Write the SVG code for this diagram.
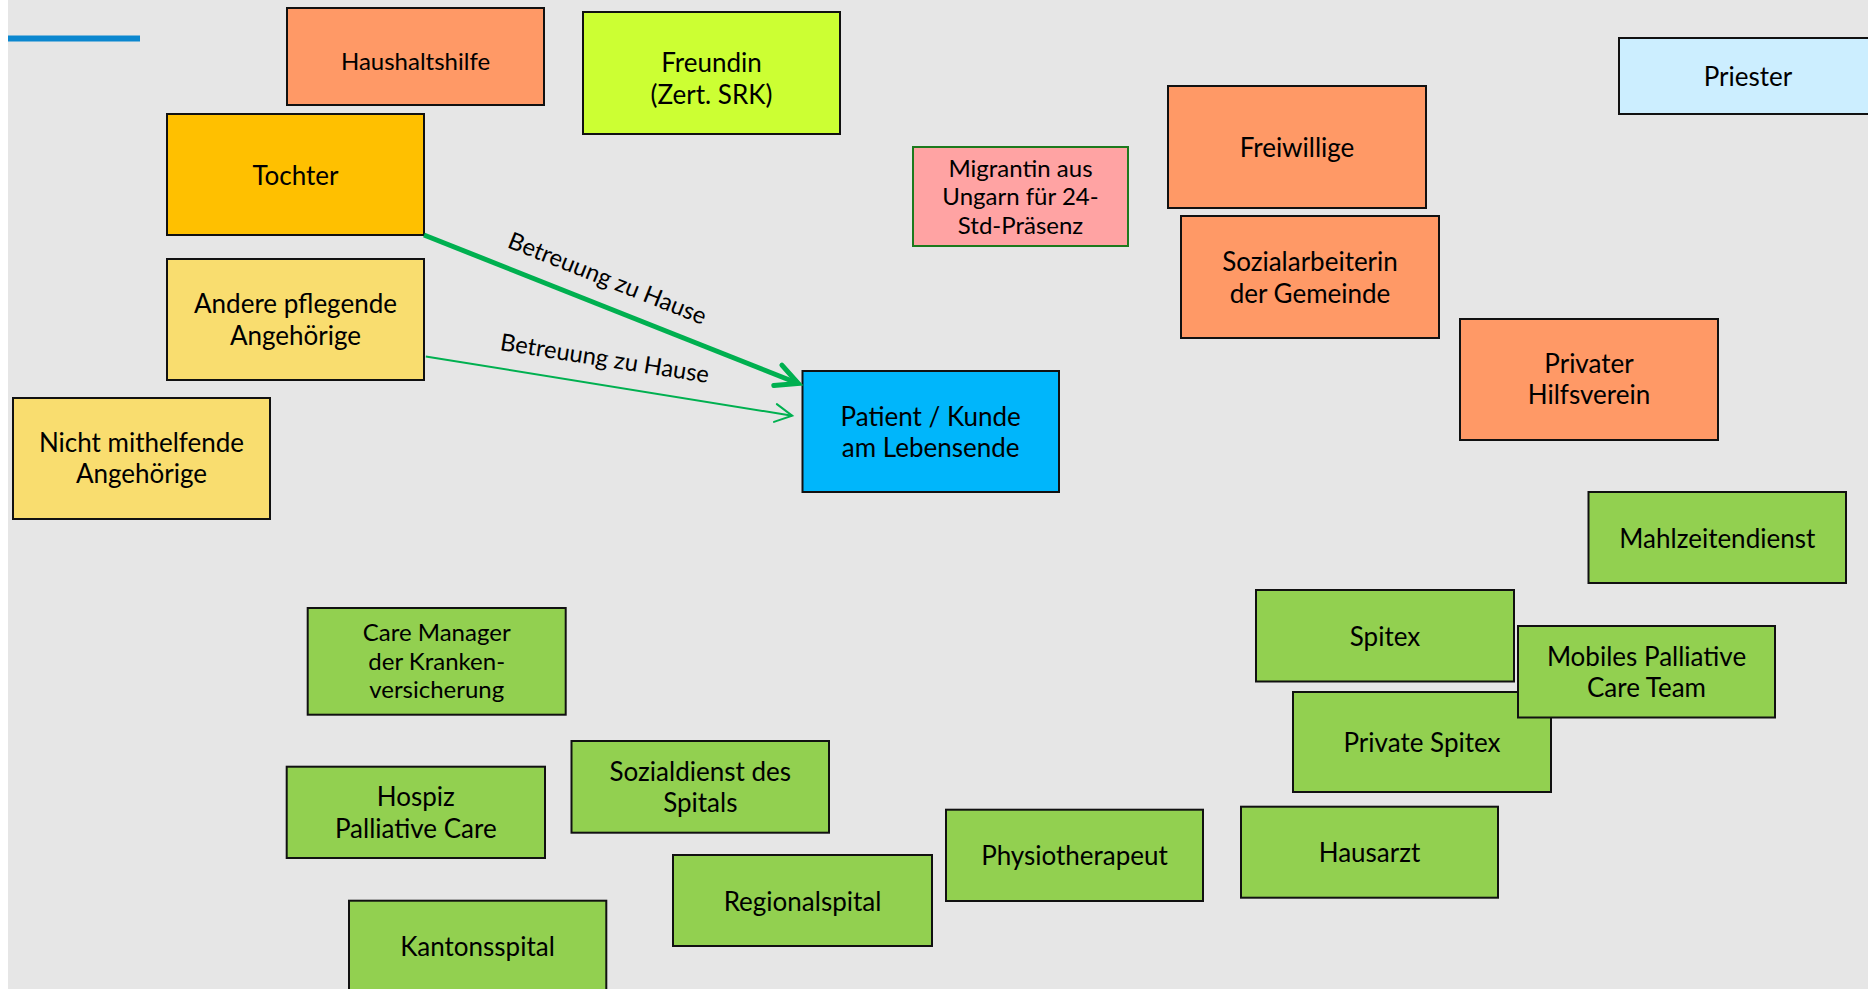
<svg xmlns="http://www.w3.org/2000/svg" width="1868" height="989" viewBox="0 0 1868 989">
<style>
.box{stroke:#111;stroke-width:2}
.t{font-family:Lato,"Open Sans","Liberation Sans",sans-serif;font-size:26px;fill:#000;text-anchor:middle}
.s{font-size:24px}
.lbl{font-family:Lato,"Open Sans","Liberation Sans",sans-serif;font-size:23.8px;fill:#000;text-anchor:middle}
.orange{fill:#ff9966}
.yellow{fill:#f9dd6f}
.green{fill:#92d050}
.con{fill:none;stroke:#00b050}
</style>
<defs>
<marker id="ahThick" markerUnits="userSpaceOnUse" orient="auto" refX="0" refY="0" markerWidth="1" markerHeight="1" overflow="visible">
<path d="M-22,-11 L0,0 L-22,11" fill="none" stroke="#00b050" stroke-width="5" stroke-linecap="round"/>
</marker>
<marker id="ahThin" markerUnits="userSpaceOnUse" orient="auto" refX="0" refY="0" markerWidth="1" markerHeight="1" overflow="visible">
<path d="M-17,-9 L0,0 L-17,9" fill="none" stroke="#00b050" stroke-width="2" stroke-linecap="round"/>
</marker>
</defs>
<rect x="0" y="0" width="1868" height="989" fill="#ffffff"/>
<rect x="8" y="0" width="1860" height="989" fill="#e6e6e6"/>
<line x1="8" y1="38.5" x2="140" y2="38.5" stroke="#0b87cf" stroke-width="6"/>

<g id="haushaltshilfe"><rect class="box orange" x="287" y="8" width="257" height="97"/><text class="t s" x="415.5" y="70">Haushaltshilfe</text></g>
<g id="freundin"><rect class="box" fill="#ccff33" x="583" y="12" width="257" height="122"/><text class="t" x="711.5" y="71.7">Freundin</text><text class="t" x="711.5" y="104">(Zert. SRK)</text></g>
<g id="tochter"><rect class="box" fill="#ffc000" x="167" y="114" width="257" height="121"/><text class="t" x="295.5" y="185">Tochter</text></g>
<g id="andere"><rect class="box yellow" x="167" y="259" width="257" height="121"/><text class="t" x="295.5" y="313.3">Andere pflegende</text><text class="t" x="295.5" y="344.5">Angehörige</text></g>
<g id="nicht"><rect class="box yellow" x="13" y="398" width="257" height="121"/><text class="t" x="141.5" y="451.7">Nicht mithelfende</text><text class="t" x="141.5" y="482.7">Angehörige</text></g>
<g id="migrantin"><rect fill="#ffa3a3" stroke="#1d7a1d" stroke-width="2" x="913" y="147" width="215" height="99"/><text class="t s" x="1020.5" y="176.7">Migrantin aus</text><text class="t s" x="1020.5" y="205">Ungarn für 24-</text><text class="t s" x="1020.5" y="233.7">Std-Präsenz</text></g>
<g id="freiwillige"><rect class="box orange" x="1168" y="86" width="258" height="122"/><text class="t" x="1297" y="156.7">Freiwillige</text></g>
<g id="sozialarbeiterin"><rect class="box orange" x="1181" y="216" width="258" height="122"/><text class="t" x="1310" y="270.7">Sozialarbeiterin</text><text class="t" x="1310" y="302.5">der Gemeinde</text></g>
<g id="privater"><rect class="box orange" x="1460" y="319" width="258" height="121"/><text class="t" x="1589" y="372.7">Privater</text><text class="t" x="1589" y="404.3">Hilfsverein</text></g>
<g id="priester"><rect class="box" fill="#cceeff" x="1619" y="38" width="258" height="76"/><text class="t" x="1748" y="85.7">Priester</text></g>
<g id="patient"><rect class="box" fill="#00b6fb" x="802.5" y="371" width="256.5" height="121"/><text class="t" x="930.7" y="425.7">Patient / Kunde</text><text class="t" x="930.7" y="457.3">am Lebensende</text></g>
<g id="mahlzeitendienst"><rect class="box green" x="1588.5" y="492" width="257.5" height="91"/><text class="t" x="1717.3" y="548.3">Mahlzeitendienst</text></g>
<g id="spitex"><rect class="box green" x="1256" y="590" width="258" height="91.5"/><text class="t" x="1385" y="645.7">Spitex</text></g>
<g id="private-spitex"><rect class="box green" x="1293" y="692" width="258" height="100"/><text class="t" x="1422" y="751.7">Private Spitex</text></g>
<g id="mobiles"><rect class="box green" x="1518" y="626" width="257" height="91.5"/><text class="t" x="1646.5" y="665.7">Mobiles Palliative</text><text class="t" x="1646.5" y="697.3">Care Team</text></g>
<g id="hausarzt"><rect class="box green" x="1241" y="806.7" width="257" height="91"/><text class="t" x="1369.5" y="861.7">Hausarzt</text></g>
<g id="physiotherapeut"><rect class="box green" x="946" y="809.7" width="257" height="91.3"/><text class="t" x="1074.5" y="865">Physiotherapeut</text></g>
<g id="care-manager"><rect class="box green" x="307.7" y="608" width="258" height="106.7"/><text class="t s" x="436.7" y="641">Care Manager</text><text class="t s" x="436.7" y="669.7">der Kranken-</text><text class="t s" x="436.7" y="698.3">versicherung</text></g>
<g id="sozialdienst"><rect class="box green" x="571.5" y="741" width="257.5" height="91.7"/><text class="t" x="700.3" y="781">Sozialdienst des</text><text class="t" x="700.3" y="812.3">Spitals</text></g>
<g id="hospiz"><rect class="box green" x="286.7" y="766.7" width="258.3" height="91.3"/><text class="t" x="415.8" y="805.7">Hospiz</text><text class="t" x="415.8" y="838.3">Palliative Care</text></g>
<g id="regionalspital"><rect class="box green" x="673" y="855" width="259" height="91"/><text class="t" x="802.5" y="911">Regionalspital</text></g>
<g id="kantonsspital"><rect class="box green" x="349" y="900.7" width="257.3" height="91"/><text class="t" x="477.5" y="956">Kantonsspital</text></g>

<g id="connectors">
<line class="con" x1="424" y1="235" x2="798.3" y2="383.5" stroke-width="5" marker-end="url(#ahThick)"/>
<line class="con" x1="425.8" y1="356.5" x2="792.2" y2="415.7" stroke-width="2" marker-end="url(#ahThin)"/>
<text class="lbl" transform="translate(604.4,285.9) rotate(21.66)">Betreuung zu Hause</text>
<text class="lbl" transform="translate(603.5,366.5) rotate(9)">Betreuung zu Hause</text>
</g>
</svg>
